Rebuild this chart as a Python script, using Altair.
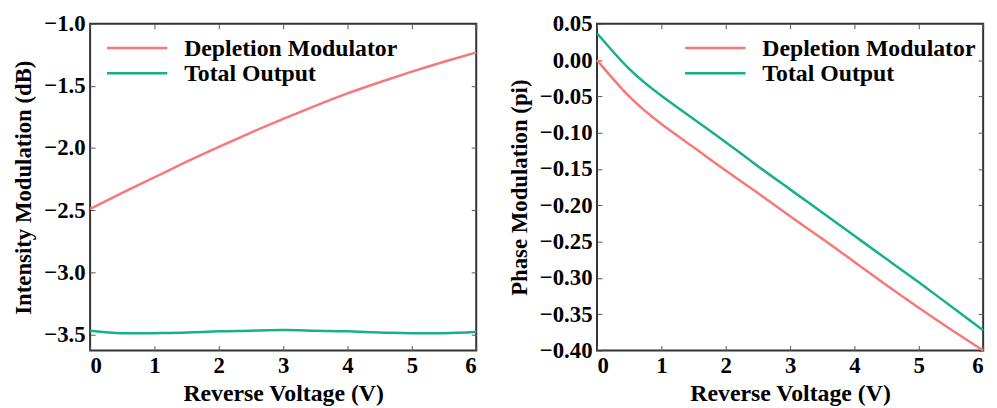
import altair as alt
import pandas as pd

voltage = [0, 0.5, 1, 1.5, 2, 2.5, 3, 3.5, 4, 4.5, 5, 5.5, 6]
series_names = ["Depletion Modulator", "Total Output"]
colors = ["#f87878", "#17b08a"]

int_depletion = [-2.49, -2.36, -2.235, -2.11, -1.99, -1.875, -1.765, -1.66, -1.56, -1.47, -1.385, -1.305, -1.23]
int_total = [-3.47, -3.49, -3.49, -3.485, -3.475, -3.47, -3.465, -3.47, -3.475, -3.485, -3.49, -3.49, -3.48]

phase_depletion = [0.000, -0.050, -0.088, -0.120, -0.152, -0.183, -0.215, -0.246, -0.278, -0.310, -0.341, -0.371, -0.400]
phase_total = [0.037, -0.012, -0.049, -0.081, -0.113, -0.146, -0.178, -0.210, -0.242, -0.274, -0.306, -0.339, -0.372]

x_ticks = [0, 1, 2, 3, 4, 5, 6]
int_ticks = [-3.5, -3.0, -2.5, -2.0, -1.5, -1.0]
phase_ticks = [-0.40, -0.35, -0.30, -0.25, -0.20, -0.15, -0.10, -0.05, 0.00, 0.05]

FONT = "Liberation Serif"
FS = 23
FS_BIG = 24

color_scale = alt.Scale(domain=series_names, range=colors)
legend_df = pd.DataFrame({"series": series_names, "row": [0, 1]})


def make_df(a, b):
    rows = []
    for v, y in zip(voltage, a):
        rows.append({"v": v, "y": y, "series": series_names[0]})
    for v, y in zip(voltage, b):
        rows.append({"v": v, "y": y, "series": series_names[1]})
    return pd.DataFrame(rows)


def panel(df, ydomain, yticks, yfmt, ytitle, lx):
    xs = alt.Scale(domain=[0, 6], nice=False, zero=False)
    ys = alt.Scale(domain=ydomain, nice=False, zero=False)
    main_x = alt.Axis(values=x_ticks, format="d", tickSize=0, domain=False, grid=False,
                      labelPadding=4, titlePadding=4, title="Reverse Voltage (V)",
                      titleFontSize=FS_BIG)
    main_y = alt.Axis(values=yticks, format=yfmt, tickSize=0, domain=False, grid=False,
                      labelPadding=5, titlePadding=8, title=ytitle)
    lines = alt.Chart(df).mark_line(strokeWidth=2.5, interpolate="natural").encode(
        x=alt.X("v:Q", scale=xs, axis=main_x),
        y=alt.Y("y:Q", scale=ys, axis=main_y),
        color=alt.Color("series:N", scale=color_scale, legend=None),
    )

    def tick_layer(xorient, yorient):
        return alt.Chart(df).mark_point(opacity=0).encode(
            x=alt.X("v:Q", scale=xs, axis=alt.Axis(orient=xorient, values=x_ticks, labels=False,
                                                   domain=False, grid=False, tickSize=5,
                                                   offset=-5, title=None, tickColor="#555")),
            y=alt.Y("y:Q", scale=ys, axis=alt.Axis(orient=yorient, values=yticks, labels=False,
                                                   domain=False, grid=False, tickSize=5,
                                                   offset=-5, title=None, tickColor="#555")),
        )

    row_y = alt.Y("row:Q", scale=alt.Scale(domain=[0, 1], range=[24.5, 50]), axis=None)
    leg_lines = alt.Chart(legend_df).mark_rule(strokeWidth=2.5).encode(
        x=alt.value(lx), x2=alt.value(lx + 61), y=row_y,
        color=alt.Color("series:N", scale=color_scale, legend=None),
    )
    leg_text = alt.Chart(legend_df).mark_text(
        align="left", baseline="alphabetic", dy=7.5, font=FONT, fontSize=FS_BIG,
        fontWeight="bold", color="black"
    ).encode(x=alt.value(lx + 78), y=row_y, text="series:N")

    return alt.layer(
        lines, tick_layer("bottom", "left"), tick_layer("top", "right"), leg_lines, leg_text
    ).resolve_scale(y="independent").resolve_axis(
        x="independent", y="independent").properties(width=390, height=330)


left = panel(make_df(int_depletion, int_total), [-3.63, -1.0], int_ticks, ".1f",
             "Intensity Modulation (dB)", 17)
right = panel(make_df(phase_depletion, phase_total), [-0.40, 0.05], phase_ticks, ".2f",
              "Phase Modulation (pi)", 89)

chart = alt.hconcat(left, right, spacing=122, bounds="flush").properties(
    padding={"left": 12, "top": 10, "right": 8, "bottom": 5}
).configure_view(stroke="#333", strokeWidth=2).configure_axis(
    labelFont=FONT, labelFontSize=FS, labelFontWeight="bold", labelColor="black",
    titleFont=FONT, titleFontSize=FS, titleFontWeight="bold", titleColor="black",
)

chart.save("out.html", embed_options={"renderer": "svg", "actions": False})
